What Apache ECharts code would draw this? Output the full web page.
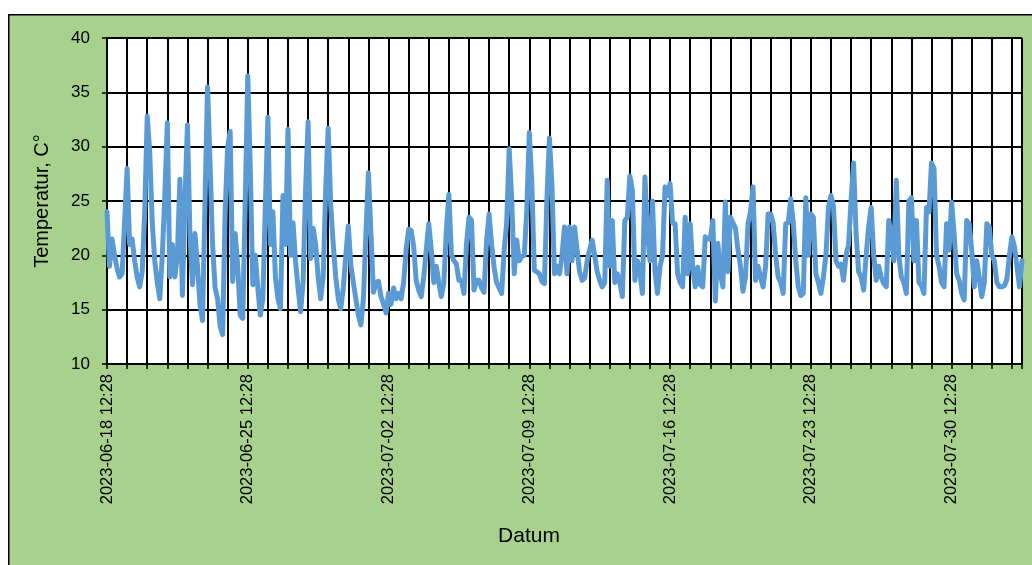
<!DOCTYPE html>
<html>
<head>
<meta charset="utf-8">
<script src="https://cdn.jsdelivr.net/npm/echarts@6/dist/echarts.min.js"></script>
<style>
  html, body { margin: 0; padding: 0; background: #ffffff; }
  #chart { width: 1032px; height: 565px; }
</style>
</head>
<body>
<div id="chart"></div>
<script>
// Readings every 3 hours, starting 2023-06-18 12:28 (x in days since start)
const stepHours = 3;
const xTickLabels = ['2023-06-18 12:28', '2023-06-25 12:28', '2023-07-02 12:28', '2023-07-09 12:28', '2023-07-16 12:28', '2023-07-23 12:28', '2023-07-30 12:28'];
const yTicks = [10, 15, 20, 25, 30, 35, 40];

const tempsWeek1 = [
  24, 19, 21.5, 20, 18.8, 18, 18.3, 23,
  28, 21, 21.5, 19.5, 18, 17.1, 18.5, 24,
  32.8, 29.5, 23, 19.5, 17.5, 16, 20, 25.5,
  32.2, 18, 21, 18, 20, 27, 16.3, 25,
  32, 22, 17.3, 22, 19, 15.5, 14, 25,
  35.5, 28.5, 21, 17, 16, 13.5, 12.7, 24,
  30, 31.4, 17.6, 22, 19, 14.5, 14.2, 25
];
const tempsWeek2 = [
  36.5, 28, 17.3, 20, 17, 14.5, 16, 24.6,
  32.7, 21, 24, 18, 16, 15.1, 25.5, 21,
  31.6, 20, 23, 19.5, 17, 14.8, 17.5, 26,
  32.3, 19.7, 22.5, 21, 18, 16, 18, 26,
  31.7, 24.6, 21, 18, 16, 15.1, 17, 20,
  22.7, 19.1, 17.5, 16, 14.5, 13.6, 16, 22,
  27.6, 22, 16.6, 17.5, 17.6, 16.2, 15.5, 14.7
];
const tempsWeek3 = [
  16.5, 15.5, 17, 16, 16.5, 16, 17.5, 20.5,
  22.4, 22.3, 20.8, 17.7, 16.8, 16.2, 18, 20.5,
  22.9, 20.5, 17.5, 19, 17.5, 16.2, 17.5, 22.3,
  25.6, 20.1, 19.5, 19.2, 17.7, 17.7, 16.5, 21,
  23.5, 23.2, 16.8, 17.7, 17.7, 17, 16.6, 21.3,
  23.8, 21, 18.9, 17.5, 17, 16.5, 20.5, 23,
  29.8, 25.1, 18.3, 21.4, 19.5, 19.9, 20, 24.2
];
const tempsWeek4 = [
  31.3, 26.6, 18.6, 18.5, 18.3, 17.6, 17.4, 25.1,
  30.8, 26.5, 18.3, 19, 18.3, 20, 22.6, 18.3,
  22.6, 19.5, 22.6, 20.5, 18.5, 17.7, 17.9, 19.5,
  20.5, 21.4, 20, 18.5, 17.7, 17.1, 17.5, 26.9,
  19, 23.2, 17.5, 18.3, 17.5, 16.2, 23.2, 23.5,
  27.3, 26, 17.7, 19.5, 18.5, 16.5, 27.2, 22,
  19.5, 25, 18.5, 16.5, 19, 20, 26.3, 25.5
];
const tempsWeek5 = [
  26.6, 23, 22.9, 18.3, 17.5, 17.1, 23.5, 18.3,
  22.9, 18.9, 17.1, 18.9, 17.3, 17.1, 21.7, 21.5,
  21.5, 23.2, 15.8, 21.1, 18.3, 17.1, 24.9, 18.5,
  23.5, 23, 22.5, 20.5, 19, 16.7, 18, 22.9,
  24, 26.3, 17.7, 19, 18, 17.1, 19, 23.8,
  23.8, 23, 20, 18, 17.5, 16.5, 22.9, 23,
  25.2, 23, 19.5, 17.1, 16.3, 16.5, 25.3, 20
];
const tempsWeek6 = [
  23.8, 23.5, 18.3, 17.5, 16.5, 18, 20, 24.4,
  25.5, 24.5, 19.5, 19, 19.2, 17.7, 20, 21,
  25, 28.5, 22, 18.5, 18, 16.8, 20, 22.6,
  24.4, 20, 17.7, 19, 18, 17.4, 17.1, 23.2,
  22, 19.5, 26.9, 20, 18, 17.5, 16.5, 25,
  25.3, 19.5, 23.2, 17.5, 17.2, 16.5, 24.4, 24,
  28.5, 28, 20, 19, 17.5, 17.1, 22.9, 20.5
];
const tempsWeek7 = [
  24.9, 22, 18.3, 17.7, 16.5, 15.9, 23.2, 22.9,
  20.5, 17.1, 19.5, 18, 16.2, 17.5, 22.9, 22.6,
  20, 19.5, 17.5, 17.1, 17.1, 17.2, 17.8, 20,
  21.7, 20.8, 19, 17.1, 19.5
];

const temps = [].concat(tempsWeek1, tempsWeek2, tempsWeek3, tempsWeek4, tempsWeek5, tempsWeek6, tempsWeek7);
const seriesData = temps.map((v, i) => [i * stepHours / 24, v]);
const xMaxDays = 45.5;

const chart = echarts.init(document.getElementById('chart'));
chart.setOption({
  animation: false,
  backgroundColor: '#ffffff',
  graphic: [
    {
      type: 'rect', z: -100, silent: true,
      shape: { x: 8.75, y: 14.75, width: 1040, height: 600 },
      style: { fill: '#a9d18e', stroke: '#000000', lineWidth: 1.5 }
    },
    {
      type: 'text', z: 10, silent: true,
      style: {
        x: 529, y: 536, text: 'Datum', textAlign: 'center', textVerticalAlign: 'middle',
        fontFamily: 'Liberation Sans', fontSize: 21, fill: '#000000'
      }
    }
  ],
  grid: {
    left: 107, top: 38, right: 10, bottom: 201,
    show: true, backgroundColor: '#ffffff', borderWidth: 0
  },
  xAxis: {
    type: 'value',
    min: 0, max: xMaxDays, interval: 1,
    axisLine: { show: true, lineStyle: { color: '#000', width: 2 } },
    axisTick: { show: true, inside: false, length: 5, lineStyle: { color: '#000', width: 1.5 } },
    splitLine: { show: true, lineStyle: { color: '#000', width: 2 } },
    axisLabel: {
      rotate: 90, margin: 10, color: '#000',
      fontFamily: 'Liberation Sans', fontSize: 16.5,
      showMinLabel: true, showMaxLabel: true, hideOverlap: false,
      formatter: function (v) {
        const r = Math.round(v);
        if (Math.abs(v - r) < 1e-6 && r % 7 === 0 && xTickLabels[r / 7]) return xTickLabels[r / 7];
        return '';
      }
    }
  },
  yAxis: {
    type: 'value',
    min: yTicks[0], max: yTicks[yTicks.length - 1], interval: 5,
    name: 'Temperatur, C°',
    nameLocation: 'middle', nameGap: 55,
    nameTextStyle: { fontFamily: 'Liberation Sans', fontSize: 20, color: '#000' },
    axisLine: { show: true, lineStyle: { color: '#000', width: 2 } },
    axisTick: { show: true, inside: false, length: 5, lineStyle: { color: '#000', width: 1.5 } },
    splitLine: { show: true, lineStyle: { color: '#000', width: 2 } },
    axisLabel: { margin: 17, color: '#000', fontFamily: 'Liberation Sans', fontSize: 17 }
  },
  series: [{
    type: 'line',
    data: seriesData,
    showSymbol: false,
    symbol: 'none',
    smooth: false,
    lineStyle: { color: '#5b9bd5', width: 5, join: 'round', cap: 'round' },
    z: 5
  }]
});
</script>
</body>
</html>
